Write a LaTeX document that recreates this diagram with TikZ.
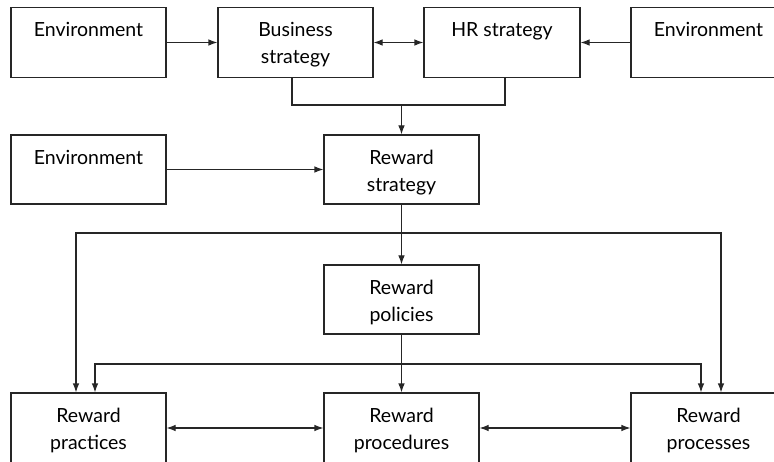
\documentclass[tikz,border=0pt]{standalone}
\usepackage{fontspec}
\setmainfont{Lato}
\usetikzlibrary{arrows.meta,calc}
\begin{document}
\begin{tikzpicture}[x=1pt,y=-1pt,
  box/.style={draw=black!85, line width=1.1pt, minimum width=155pt, minimum height=70pt, inner sep=0pt},
  lab/.style={anchor=north, yshift=-15.5pt, align=center, inner sep=0pt, font=\fontsize{19.5}{26.5}\selectfont},
  conn/.style={draw=black!85, line width=1.1pt},
  arr/.style={conn, -{Latex[length=9pt,width=6.5pt]}},
  darr/.style={conn, {Latex[length=9pt,width=6.5pt]}-{Latex[length=9pt,width=6.5pt]}}]
\clip (0,0) rectangle (774,462);
\useasboundingbox (0,0) rectangle (774,462);
% boxes
\node[box, label={[lab]north:Environment}] (env1) at (88.5,42.5) {};
\node[box, label={[lab]north:Business\\strategy}] (bus) at (295.5,42.5) {};
\node[box, minimum width=156pt, label={[lab]north:HR strategy}] (hr) at (502,42.5) {};
\node[box, label={[lab]north:Environment}] (env2) at (708.5,42.5) {};
\node[box, minimum height=69pt, label={[lab]north:Environment}] (env3) at (88.5,169.5) {};
\node[box, minimum height=69pt, label={[lab]north:Reward\\strategy}] (rs) at (401.5,169.5) {};
\node[box, minimum height=69pt, label={[lab]north:Reward\\policies}] (rpol) at (401.5,299.5) {};
\node[box, label={[lab]north:Reward\\practices}] (prac) at (88.5,428) {};
\node[box, label={[lab]north:Reward\\procedures}] (proc) at (401.5,428) {};
\node[box, label={[lab]north:Reward\\processes}] (pros) at (708.5,428) {};
% junction points
\coordinate (j1) at (401.5,105);
\coordinate (j2) at (401.5,233);
\coordinate (j3) at (401.5,364);
% top row
\draw[arr] (env1) -- (bus);
\draw[darr] (bus) -- (hr);
\draw[arr] (env2) -- (hr);
\draw[conn] ([xshift=-3.5pt]bus.south) |- ([xshift=3pt]hr.south |- j1) -- ([xshift=3pt]hr.south);
\draw[arr] (j1) -- (rs.north);
\draw[arr] (env3) -- (rs);
% reward strategy fan-out
\draw[arr] (rs.south) -- (rpol.north);
\draw[arr] (j2) -| ([xshift=-12.5pt]prac.north);
\draw[arr] (j2) -| ([xshift=12.5pt]pros.north);
% reward policies fan-out
\draw[arr] (rpol.south) -- (proc.north);
\draw[arr] (j3) -| ([xshift=6.5pt]prac.north);
\draw[arr] (j3) -| ([xshift=-7.5pt]pros.north);
% bottom row
\draw[darr] (prac) -- (proc);
\draw[darr] (proc) -- (pros);
\end{tikzpicture}
\end{document}
